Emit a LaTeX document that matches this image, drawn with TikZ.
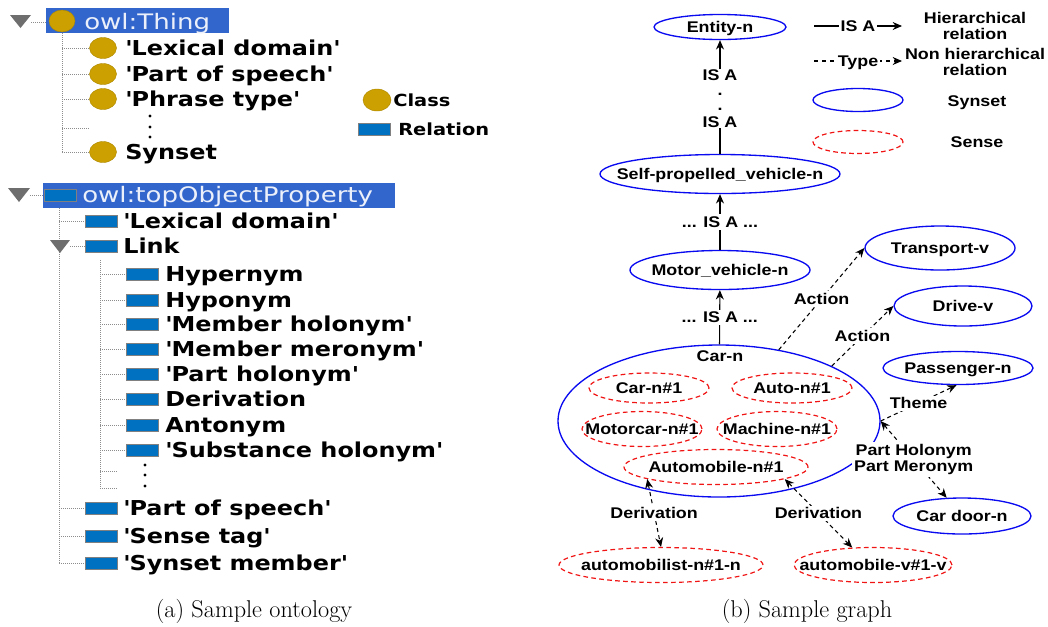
\documentclass[tikz,border=0pt]{standalone}
\usepackage{fontspec}
\usetikzlibrary{shapes.geometric,arrows.meta}
\newfontfamily\treefont[FakeStretch=1.165]{DejaVu Sans}
\newfontfamily\topfont[FakeStretch=1.22]{DejaVu Sans}
\newfontfamily\graphfont[FakeStretch=1.155]{Liberation Sans}
\newcommand\myq{\textquotesingle}
\definecolor{hl}{RGB}{51,102,204}
\definecolor{gold}{RGB}{204,160,0}
\definecolor{relblue}{RGB}{0,112,192}
\definecolor{synblue}{RGB}{10,10,240}
\definecolor{sensered}{RGB}{240,20,20}
\definecolor{tri}{RGB}{110,110,110}
\definecolor{dotgray}{RGB}{140,140,140}
\begin{document}
\begin{tikzpicture}[x=0.75pt,y=-0.75pt,
  tb/.style={anchor=base west, inner sep=0, font=\treefont\bfseries\fontsize{15.4}{18}\selectfont},
  tt/.style={anchor=base west, inner sep=0, text=white!90!hl, font=\topfont\fontsize{16}{19}\selectfont},
  lg/.style={anchor=base west, inner sep=0, font=\treefont\bfseries\fontsize{12.5}{15}\selectfont},
  dotl/.style={draw=dotgray, line width=0.75pt, dash pattern=on 0.75pt off 0.75pt},
  cls/.style={ellipse, fill=gold, draw=gold!85!black, line width=0.3pt, minimum width=20.25pt, minimum height=15.75pt, inner sep=0},
  rel/.style={rectangle, fill=relblue, draw=gray, line width=0.7pt, minimum width=24pt, minimum height=9pt, inner sep=0},
  vdot/.style={circle, fill=black, inner sep=0, minimum size=2.4pt},
  gtxt/.style={font=\graphfont\bfseries\fontsize{11.6}{12}\selectfont, text height=8.3pt, text depth=0pt, inner sep=0},
  gml/.style={font=\graphfont\bfseries\fontsize{11.6}{12}\selectfont, align=center, inner sep=0},
  sz/.style 2 args={minimum width=#1*0.75pt, minimum height=#2*0.75pt},
  syn/.style={ellipse, draw=synblue, line width=1pt, inner sep=0},
  sense/.style={ellipse, draw=sensered, line width=0.9pt, dash pattern=on 3.5pt off 2.5pt, inner sep=0},
  arr/.style={-{Stealth[length=7pt,width=6pt]}, line width=0.8pt},
  darr/.style={arr, dash pattern=on 3pt off 2.5pt},
  ddarr/.style={{Stealth[length=7pt,width=6pt]}-{Stealth[length=7pt,width=6pt]}, line width=0.8pt, dash pattern=on 3pt off 2.5pt},
  lbl/.style={gtxt, fill=white, inner sep=1.5pt},
  lblm/.style={gml, fill=white, inner sep=1.5pt},
  captxt/.style={font=\fontsize{18.2}{21}\selectfont, inner sep=0}
]
\useasboundingbox (0,0) rectangle (1048,626);

% ---------------- (a) class tree ----------------
\fill[hl] (46,8) rectangle (229,33);
\fill[tri] (10,15) -- (31,15) -- (20.5,28) -- cycle;
\draw[dotl] (31,22) -- (46,22);
\node[cls, minimum width=19.5pt, minimum height=16.5pt] (thingicon) at (62,21) {};
\node[tt] (thing) at (84,29.6) {owl:Thing};
\draw[dotl] (62,33) -- (62,152);
\foreach \yy in {48,74,99,128,152} {\draw[dotl] (62,\yy) -- (89,\yy);}
\node[cls] (c1) at (103,48) {};
\node[tb] (t1) at (125,55.5) {\myq Lexical domain\myq};
\node[cls] (c2) at (103,74) {};
\node[tb] (t2) at (125,81.5) {\myq Part of speech\myq};
\node[cls] (c3) at (103,99) {};
\node[tb] (t3) at (125,106.5) {\myq Phrase type\myq};
\node[vdot] (cd1) at (150,116) {};
\node[vdot] (cd2) at (150,127) {};
\node[vdot] (cd3) at (150,137) {};
\node[cls] (c4) at (103,152) {};
\node[tb] (t4) at (125,159.5) {Synset};

% legend
\node[cls, minimum width=21pt, minimum height=16.5pt] (lgc) at (377,100) {};
\node[lg] (lgct) at (393,106.1) {Class};
\node[rel] (lgr) at (374,129) {};
\node[lg] (lgrt) at (398,135.1) {Relation};

% ---------------- (a) property tree ----------------
\fill[hl] (43,183) rectangle (395,208);
\fill[tri] (8,188) -- (30,188) -- (19,202) -- cycle;
\draw[dotl] (30,195) -- (43,195);
\node[rel] (topicon) at (60.5,195) {};
\node[tt] (topprop) at (82,202.7) {owl:topObjectProperty};
\draw[dotl] (59,208) -- (59,563);
\foreach \yy in {221,508,536,563} {\draw[dotl] (59,\yy) -- (85,\yy);}
\draw[dotl] (70,246) -- (85,246);
\fill[tri] (50,240) -- (70,240) -- (60,253) -- cycle;
\node[rel] (p1) at (101,221) {};
\node[tb] (pt1) at (123,228.5) {\myq Lexical domain\myq};
\node[rel] (p2) at (101,246) {};
\node[tb] (pt2) at (123,253.5) {Link};
\draw[dotl] (100,260) -- (100,488);
\foreach \yy in {274,300,324,349,374,399,425,450} {\draw[dotl] (100,\yy) -- (127,\yy);}
\foreach \yy in {471,488} {\draw[dotl] (100,\yy) -- (117,\yy);}
\node[rel] (l1) at (142.5,274) {};
\node[tb] (lt1) at (165,281.5) {Hypernym};
\node[rel] (l2) at (142.5,300) {};
\node[tb] (lt2) at (165,307.5) {Hyponym};
\node[rel] (l3) at (142.5,324) {};
\node[tb] (lt3) at (165,331.5) {\myq Member holonym\myq};
\node[rel] (l4) at (142.5,349) {};
\node[tb] (lt4) at (165,356.5) {\myq Member meronym\myq};
\node[rel] (l5) at (142.5,374) {};
\node[tb] (lt5) at (165,381.5) {\myq Part holonym\myq};
\node[rel] (l6) at (142.5,399) {};
\node[tb] (lt6) at (165,406.5) {Derivation};
\node[rel] (l7) at (142.5,425) {};
\node[tb] (lt7) at (165,432.5) {Antonym};
\node[rel] (l8) at (142.5,450) {};
\node[tb] (lt8) at (165,457.5) {\myq Substance holonym\myq};
\node[vdot] (pd1) at (145,465) {};
\node[vdot] (pd2) at (145,475) {};
\node[vdot] (pd3) at (145,486) {};
\node[rel] (p3) at (101,508) {};
\node[tb] (pt3) at (123,515.5) {\myq Part of speech\myq};
\node[rel] (p4) at (101,536) {};
\node[tb] (pt4) at (123,543.5) {\myq Sense tag\myq};
\node[rel] (p5) at (101,563) {};
\node[tb] (pt5) at (123,570.5) {\myq Synset member\myq};

% ---------------- (b) graph ----------------
\node[syn, sz={132}{25}, label={[gtxt]center:Entity-n}] (ent) at (720,27) {};
\node[syn, sz={240}{39}, label={[gtxt]center:Self-propelled\_vehicle-n}] (sp) at (720,174) {};
\node[syn, sz={180}{39}, label={[gtxt]center:Motor\_vehicle-n}] (mv) at (720,270) {};
\node[syn, sz={322}{152}] (carn) at (719,421) {};
\node[gtxt] (carlbl) at (720,356) {Car-n};
\node[syn, sz={150}{44}, label={[gtxt]center:Transport-v}] (trans) at (940,248) {};
\node[syn, sz={138}{40}, label={[gtxt]center:Drive-v}] (drive) at (963,306) {};
\node[syn, sz={150}{33}, label={[gtxt]center:Passenger-n}] (pass) at (958,368) {};
\node[syn, sz={138}{36}, label={[gtxt]center:Car door-n}] (cardoor) at (962,516) {};
\node[sense, sz={120}{30}, label={[gtxt]center:Car-n\#1}] (s1) at (649,388) {};
\node[sense, sz={120}{30}, label={[gtxt]center:Auto-n\#1}] (s2) at (792,388) {};
\node[sense, sz={120}{35}, label={[gtxt]center:Motorcar-n\#1}] (s3) at (642,429) {};
\node[sense, sz={120}{35}, label={[gtxt]center:Machine-n\#1}] (s4) at (777,429) {};
\node[sense, sz={184}{35}, label={[gtxt]center:Automobile-n\#1}] (autom) at (716,467) {};
\node[sense, sz={204}{35}, label={[gtxt]center:automobilist-n\#1-n}] (autol) at (661,565) {};
\node[sense, sz={158}{35}, label={[gtxt]center:automobile-v\#1-v}] (autov) at (873,565) {};

% IS A chain (one text block: IS A . . IS A)
\node[gml] (isachain) at (720,98.5) {IS A\\[-0.75pt] .\\[-0.75pt] .\\[0.75pt] IS A};
\draw[arr] (isachain) -- (ent);
\draw[line width=0.8pt] (sp) -- (isachain);
\draw[arr] (mv) -- node[lbl] {... IS A ...} (sp);
\draw[arr] (carn) -- node[lbl] {... IS A ...} (mv);

% non hierarchical relations
\draw[darr] (carn.50) -- node[lbl] {Action} (trans.west);
\draw[darr] (carn.26) -- node[lbl] {Action} (drive.west);
\draw[darr] (carn.east) -- node[lbl] {Theme} (pass.265);
\draw[ddarr] (carn.east) -- node[lblm] {Part Holonym\\Part Meronym} (cardoor.130);
\draw[ddarr] (autom.190) -- node[lbl] {Derivation} (autol.north);
\draw[ddarr] (autom.-10) -- node[lbl] {Derivation} (autov.140);

% legend
\coordinate (lg1a) at (814,26);
\coordinate (lg1b) at (902,26);
\coordinate (lg2a) at (814,61);
\coordinate (lg2b) at (902,61);
\draw[arr] (lg1a) -- node[lbl] {IS A} (lg1b);
\draw[arr, dash pattern=on 3pt off 3pt] (lg2a) -- node[lbl] {Type} (lg2b);
\node[gml] (lgh) at (975,26) {Hierarchical\\relation};
\node[gml] (lgn) at (975,61.5) {Non hierarchical\\relation};
\node[syn, sz={90}{23}] (lgsyn) at (858,100) {};
\node[gtxt] (lgsynt) at (977,101) {Synset};
\node[sense, sz={90}{23}] (lgsen) at (858,142) {};
\node[gtxt] (lgsent) at (977,142) {Sense};

% captions
\node[captxt] (capa) at (254,611) {(a) Sample ontology};
\node[captxt] (capb) at (807,611) {(b) Sample graph};
\end{tikzpicture}
\end{document}
